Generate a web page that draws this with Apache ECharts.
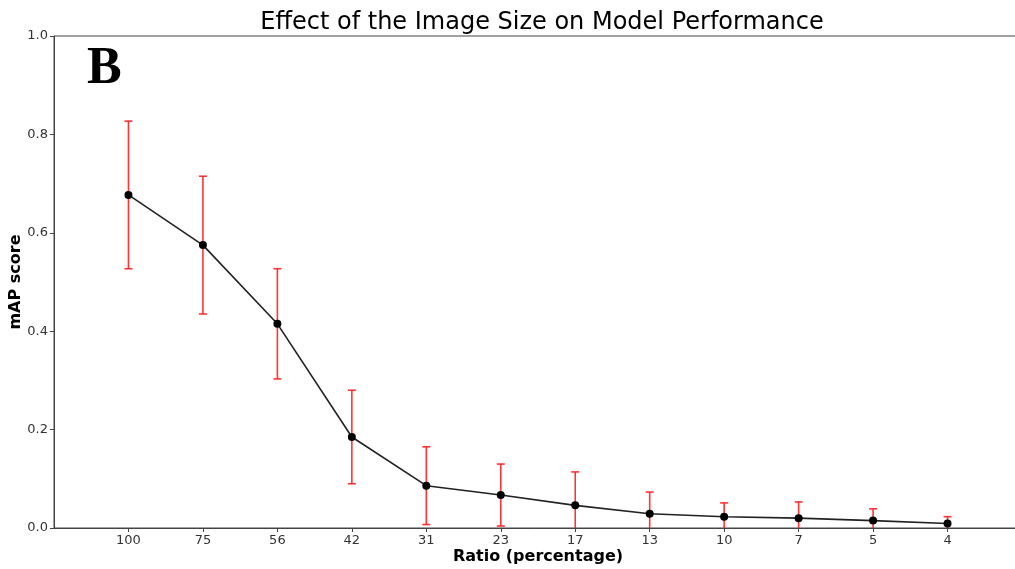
<!DOCTYPE html>
<html><head><meta charset="utf-8">
<script src="https://cdn.jsdelivr.net/npm/echarts@6/dist/echarts.min.js"></script>
<style>html,body{margin:0;padding:0;background:#fff}#c{width:1015px;height:569px}</style>
</head><body><div id="c"></div>
<script>
const categories = ['100','75','56','42','31','23','17','13','10','7','5','4'];
const mapMean = [0.677,0.575,0.415,0.185,0.086,0.067,0.046,0.029,0.023,0.020,0.015,0.009];
const mapErr  = [0.150,0.140,0.112,0.095,0.079,0.063,0.068,0.044,0.028,0.033,0.024,0.014];
const yTicks = [0,0.2,0.4,0.6,0.8,1.0];

const cats = [''].concat(categories).concat(['']);
const lineData = mapMean.map((v,i)=>[i+1, v]);
const errData = mapMean.map((v,i)=>[i+1, v-mapErr[i], v+mapErr[i]]);
const font = 'DejaVu Sans';

const chart = echarts.init(document.getElementById('c'), null, {renderer:'canvas'});
chart.setOption({
  animation:false,
  backgroundColor:'#fff',
  title:{text:'Effect of the Image Size on Model Performance',left:537,top:6,textAlign:'center',
    textStyle:{fontFamily:font,fontSize:24,fontWeight:'normal',color:'#000'}},
  grid:{left:54,right:-7,top:36,bottom:41,containLabel:false,outerBoundsMode:'none',
    show:true,borderColor:'#444',borderWidth:1,backgroundColor:'transparent'},
  xAxis:{type:'category',data:cats,boundaryGap:false,
    name:'Ratio (percentage)',nameLocation:'middle',nameGap:21,nameMoveOverlap:false,
    nameTextStyle:{fontFamily:font,fontSize:16,fontWeight:'bold',color:'#000'},
    axisLine:{lineStyle:{color:'#444',width:1}},
    axisTick:{length:4,interval:(i,v)=>v!=='',lineStyle:{color:'#444'}},
    axisLabel:{interval:(i,v)=>v!=='',fontFamily:font,fontSize:13,color:'#333',margin:6},
    splitLine:{show:false}},
  yAxis:{type:'value',min:0,max:1,interval:0.2,
    name:'mAP score',nameLocation:'middle',nameGap:30,nameRotate:90,nameMoveOverlap:false,
    nameTextStyle:{fontFamily:font,fontSize:16,fontWeight:'bold',color:'#000'},
    axisLine:{show:true,lineStyle:{color:'#444',width:1}},
    axisTick:{show:true,length:4,lineStyle:{color:'#444'}},
    axisLabel:{fontFamily:font,fontSize:13,color:'#333',margin:6,formatter:v=>v.toFixed(1)},
    splitLine:{show:false}},
  graphic:[{type:'text',left:87,top:44,style:{text:'B',fontFamily:'Liberation Serif',fontWeight:'bold',fontSize:52,fill:'#000'}}],
  series:[
    {type:'custom',clip:true,z:2,data:errData,
      renderItem:function(params,api){
        const x=api.value(0), lo=api.value(1), hi=api.value(2);
        const p1=api.coord([x,hi]), p2=api.coord([x,lo]);
        const st={stroke:'rgba(255,30,30,0.9)',lineWidth:1.6};
        return {type:'group',children:[
          {type:'line',shape:{x1:p1[0],y1:p1[1],x2:p2[0],y2:p2[1]},style:st},
          {type:'line',shape:{x1:p1[0]-4,y1:p1[1],x2:p1[0]+4,y2:p1[1]},style:st},
          {type:'line',shape:{x1:p2[0]-4,y1:p2[1],x2:p2[0]+4,y2:p2[1]},style:st}
        ]};
      }},
    {type:'line',z:3,data:lineData,symbol:'circle',symbolSize:8,
      lineStyle:{color:'#222',width:1.6},itemStyle:{color:'#000'}}
  ]
});
</script></body></html>
